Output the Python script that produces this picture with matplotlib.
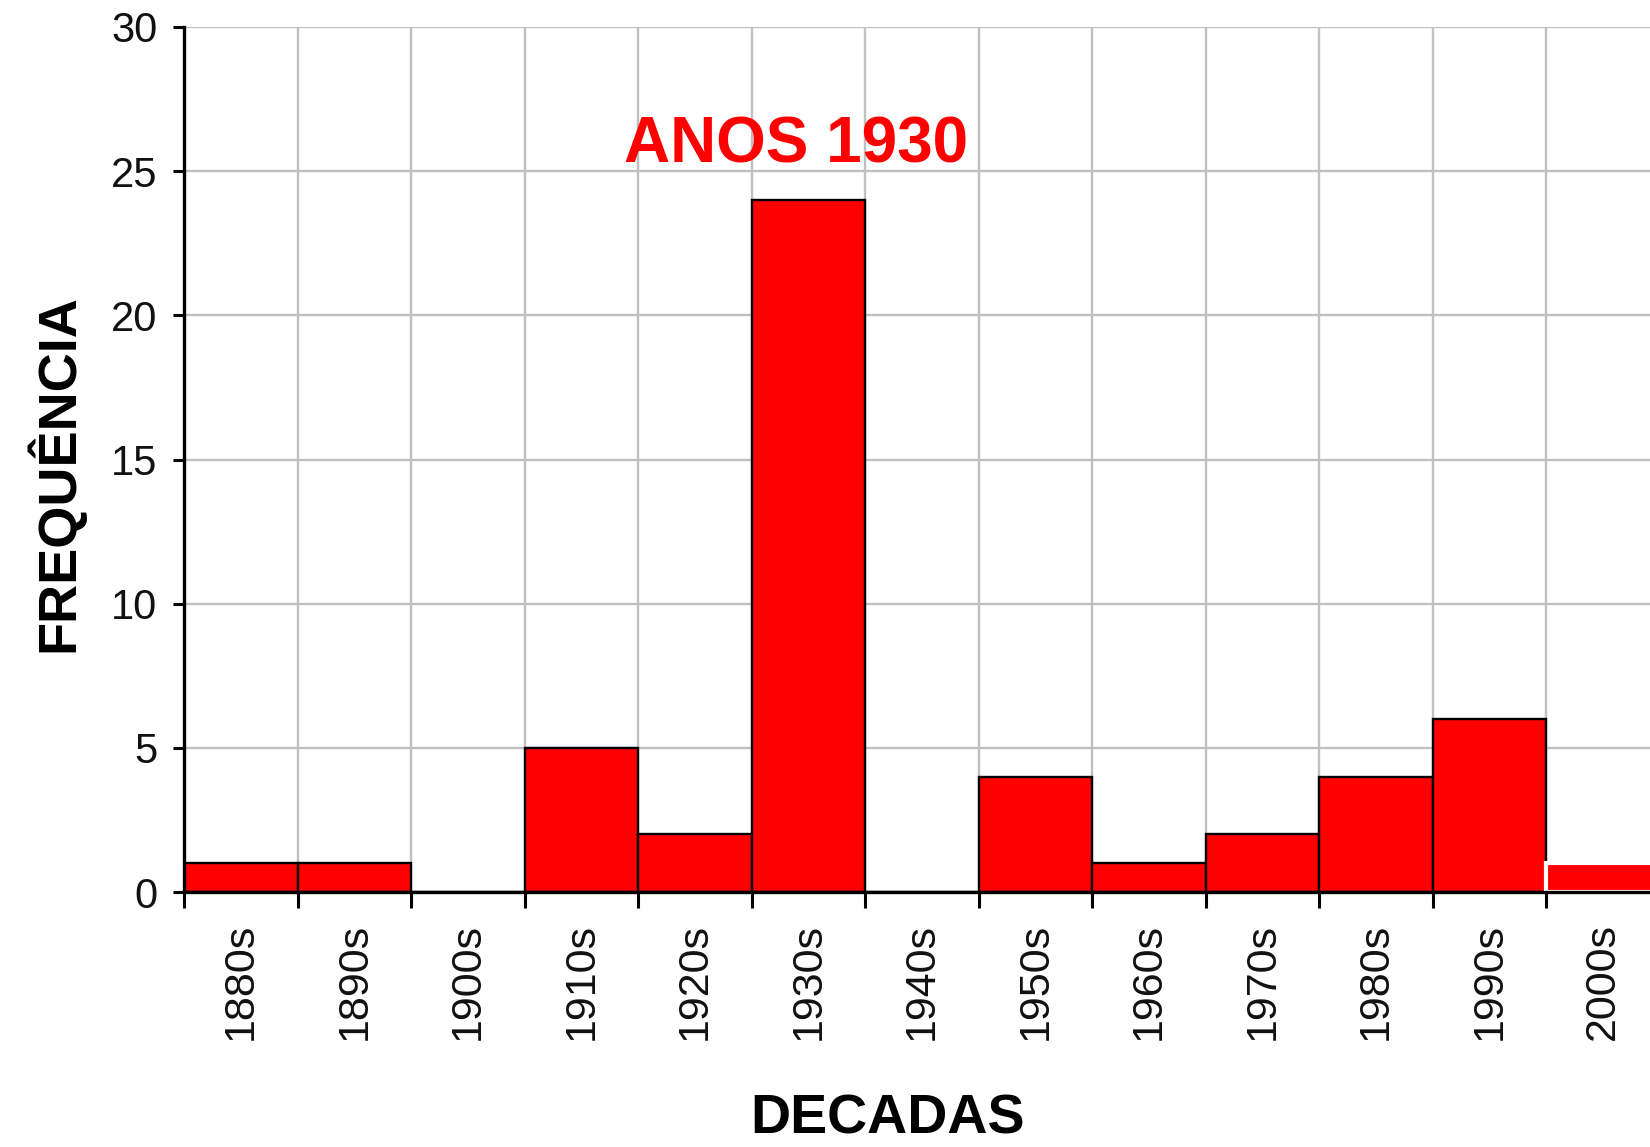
import matplotlib
matplotlib.use("Agg")
import matplotlib.pyplot as plt
import numpy as np

decades = ["1880s", "1890s", "1900s", "1910s", "1920s", "1930s", "1940s",
           "1950s", "1960s", "1970s", "1980s", "1990s", "2000s"]
counts = [1, 1, 0, 5, 2, 24, 0, 4, 1, 2, 4, 6, 1]
yticks = [0, 5, 10, 15, 20, 25, 30]

REG = ["Liberation Sans", "DejaVu Sans"]

fig = plt.figure(figsize=(16.5, 11.47), dpi=100)
ax = fig.add_axes([184/1650, 255/1147, 1476/1650, 865/1147])

for i, (d, c) in enumerate(zip(decades, counts)):
    last = (i == len(decades) - 1)
    ax.bar(i, c, width=1.0, align="edge", color="#ff0000",
           edgecolor="white" if last else "black",
           linewidth=3.0 if last else 1.7, zorder=2)

ax.set_xlim(0, len(decades))
ax.set_ylim(0, 30)
ax.set_axisbelow(True)

ax.set_xticks(np.arange(len(decades) + 1))
ax.set_xticklabels([])
ax.set_xticks(np.arange(len(decades)) + 0.5, minor=True)
ax.set_xticklabels(decades, minor=True, rotation=90, fontsize=31,
                   family=REG, color="#111111")
ax.tick_params(axis="x", which="major", direction="out", length=11.5,
               width=2.2, color="black")
ax.tick_params(axis="x", which="minor", length=0, pad=22)

ax.set_yticks(yticks)
ax.set_yticklabels([str(v) for v in yticks], fontsize=30, family=REG,
                   color="#111111")
ax.tick_params(axis="y", direction="out", length=8, width=2.2, pad=11)

ax.grid(True, which="major", color="#c0c0c0", linewidth=1.7)
for s in ["top", "right"]:
    ax.spines[s].set_visible(False)
ax.spines["left"].set_linewidth(2.4)
ax.spines["bottom"].set_linewidth(2.4)
ax.spines["left"].set_zorder(3)
ax.spines["bottom"].set_zorder(3)

ax.text(5.39, 25.3, "ANOS 1930", color="#ff0000", fontsize=46,
        fontweight="bold", family=REG, ha="center", va="baseline")

fig.text(887/1650, 0.001, "DECADAS", fontsize=40, fontweight="bold",
         family=REG, ha="center", va="bottom")
fig.text(55/1650, (1147-473)/1147, "FREQUÊNCIA", fontsize=39,
         fontweight="bold", family=REG, ha="center", va="center",
         rotation=90)

fig.savefig("out.png", dpi=100)
